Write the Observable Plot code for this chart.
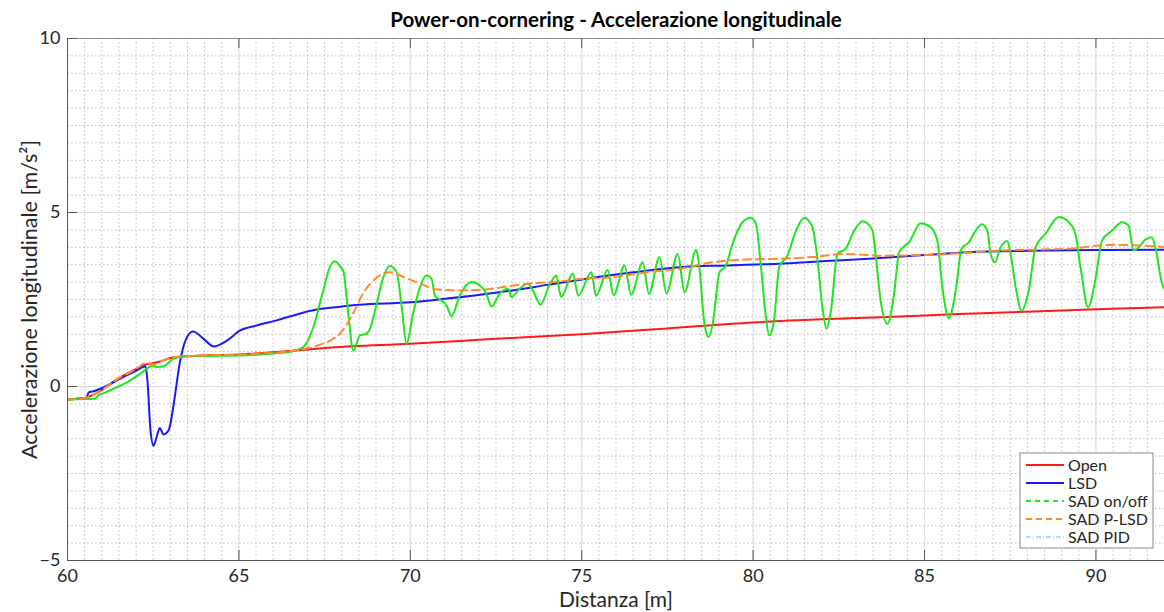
<!DOCTYPE html>
<html>
<head>
<meta charset="utf-8">
<script src="https://cdn.jsdelivr.net/npm/d3@7"></script>
<script src="https://cdn.jsdelivr.net/npm/@observablehq/plot@0.6"></script>
<style>
  html, body { margin: 0; padding: 0; background: #ffffff; }
  #chart { width: 1164px; height: 612px; overflow: hidden; }
</style>
</head>
<body>
<div id="chart"></div>
<script>
// Longitudinal acceleration [m/s²] against distance [m], one array of [distanza, accel] per strategy.
const open = [
  [60, -0.37], [60.5, -0.33], [61, -0.1], [61.5, 0.24], [62, 0.5], [62.3, 0.64], [62.45, 0.66],
  [62.7, 0.72], [63.1, 0.84], [63.7, 0.88], [65, 0.92], [66.6, 1.03], [67.7, 1.12], [70, 1.23],
  [72.5, 1.37], [75, 1.5], [77.5, 1.67], [80, 1.84], [82, 1.93], [83.5, 1.98], [86, 2.08],
  [88, 2.15], [90, 2.22], [92, 2.28]
];

const lsd = [
  [60, -0.37], [60.55, -0.32], [60.62, -0.17], [60.78, -0.13], [61, -0.05], [61.54, 0.23],
  [62, 0.45], [62.27, 0.58], [62.33, 0.2], [62.42, -1.26], [62.51, -1.7], [62.6, -1.45],
  [62.69, -1.19], [62.8, -1.38], [62.95, -1.26], [63.1, -0.49], [63.27, 0.65], [63.44, 1.32],
  [63.66, 1.58], [63.97, 1.37], [64.26, 1.15], [64.65, 1.32], [65.04, 1.61], [65.5, 1.75],
  [66.1, 1.9], [66.79, 2.1], [67.2, 2.2], [67.66, 2.26], [68.5, 2.35], [70, 2.42], [71, 2.52],
  [72.6, 2.71], [74, 2.92], [75.23, 3.11], [76.5, 3.28], [77.85, 3.43], [79.3, 3.48],
  [80.76, 3.53], [82, 3.6], [83.5, 3.68], [85, 3.78], [86.3, 3.86], [88, 3.9], [90, 3.92], [92, 3.93]
];

const sadOnOff = [
  [60, -0.37], [60.5, -0.36], [60.77, -0.35], [60.86, -0.3], [60.91, -0.24], [61.06, -0.19],
  [61.4, -0.04], [61.74, 0.12], [62.1, 0.35], [62.51, 0.6], [62.6, 0.56], [62.8, 0.58],
  [63.1, 0.8], [63.48, 0.88], [64, 0.88], [65.04, 0.89], [66, 0.95], [66.5, 1.0], [66.88, 1.13],
  [67.17, 1.7], [67.46, 2.76], [67.66, 3.45], [67.8, 3.6], [67.95, 3.45], [68.05, 3.3],
  [68.19, 2.09], [68.34, 1.03], [68.53, 1.47], [68.68, 1.5], [68.8, 1.6], [69.02, 2.38],
  [69.2, 3.1], [69.4, 3.46], [69.6, 3.28], [69.75, 2.28], [69.89, 1.23], [70.08, 2.09],
  [70.28, 2.85], [70.47, 3.19], [70.62, 3.09], [70.72, 2.61], [70.86, 2.5], [71.06, 2.33],
  [71.2, 2.02], [71.44, 2.61], [71.79, 3.0], [72.03, 2.9], [72.22, 2.66], [72.37, 2.3],
  [72.6, 2.66], [72.85, 2.81], [72.95, 2.57], [73.19, 2.81], [73.43, 2.95], [73.58, 2.75],
  [73.8, 2.35], [74.05, 2.9], [74.26, 3.19], [74.4, 2.57], [74.74, 3.25], [74.9, 2.61],
  [75.28, 3.28], [75.42, 2.61], [75.76, 3.35], [75.93, 2.62], [76.25, 3.48], [76.44, 2.64],
  [76.78, 3.57], [76.96, 2.66], [77.27, 3.72], [77.47, 2.68], [77.8, 3.81], [78.0, 2.71],
  [78.34, 3.93], [78.43, 3.43], [78.58, 1.8], [78.7, 1.42], [78.82, 1.8], [79.02, 3.28],
  [79.21, 3.48], [79.4, 4.1], [79.69, 4.72], [79.94, 4.85], [80.08, 4.68], [80.23, 3.43],
  [80.36, 2.09], [80.47, 1.47], [80.62, 1.99], [80.76, 3.43], [81.0, 3.76], [81.25, 4.48],
  [81.49, 4.85], [81.73, 4.58], [81.88, 3.62], [82.02, 2.28], [82.14, 1.66], [82.27, 2.18],
  [82.46, 3.81], [82.7, 3.96], [82.95, 4.48], [83.19, 4.75], [83.48, 4.5], [83.58, 3.72],
  [83.72, 2.47], [83.92, 1.8], [84.11, 2.66], [84.26, 3.86], [84.55, 4.15], [84.89, 4.69],
  [85.18, 4.58], [85.37, 4.2], [85.52, 2.85], [85.71, 1.97], [85.91, 2.76], [86.08, 3.96],
  [86.3, 4.15], [86.49, 4.48], [86.68, 4.66], [86.83, 4.48], [86.93, 3.81], [87.05, 3.57],
  [87.22, 4.0], [87.41, 4.18], [87.51, 3.81], [87.66, 2.85], [87.83, 2.18], [88.04, 2.76],
  [88.24, 4.0], [88.53, 4.39], [88.92, 4.87], [89.21, 4.72], [89.4, 4.39], [89.55, 3.43],
  [89.77, 2.28], [89.98, 3.05], [90.18, 4.2], [90.47, 4.48], [90.76, 4.72], [90.95, 4.63],
  [91.1, 3.91], [91.25, 4.0], [91.44, 4.22], [91.63, 4.29], [91.75, 3.91], [91.93, 2.95], [92, 2.8]
];

const sadPLsd = [
  [60, -0.37], [60.5, -0.33], [61, -0.1], [61.5, 0.24], [62, 0.5], [62.3, 0.68], [62.5, 0.63],
  [62.7, 0.72], [63.1, 0.84], [63.7, 0.88], [65, 0.92], [66.6, 1.03], [67.0, 1.1], [67.3, 1.18],
  [67.66, 1.32], [67.95, 1.52], [68.33, 2.1], [68.62, 2.67], [69.03, 3.14], [69.4, 3.28],
  [69.89, 3.11], [70.28, 2.96], [70.77, 2.79], [71.44, 2.76], [72.2, 2.79], [72.8, 2.87],
  [73.39, 2.95], [74.15, 3.0], [75.23, 3.11], [75.9, 3.14], [76.88, 3.28], [77.85, 3.38],
  [78.82, 3.57], [79.8, 3.65], [80.76, 3.67], [81.73, 3.72], [82.7, 3.81], [83.67, 3.76],
  [85.33, 3.79], [87.26, 3.91], [89.2, 3.96], [90.47, 4.07], [91.73, 4.03], [92, 4.0]
];

// Axis ticks and grid steps
const xMajor = [60, 65, 70, 75, 80, 85, 90];
const yMajor = [-5, 0, 5, 10];
const xMinor = d3.range(60, 92.01, 0.5);
const yMinor = d3.range(-5, 10.01, 0.5);

const titleText = "Power-on-cornering - Accelerazione longitudinale";
const xLabel = "Distanza [m]";
const yLabel = "Accelerazione longitudinale [m/s²]";

// Series appearance, in legend order
const series = [
  { name: "Open", data: open, color: "#ff1a1a", dash: null, width: 2 },
  { name: "LSD", data: lsd, color: "#1a1aff", dash: null, width: 2 },
  { name: "SAD on/off", data: sadOnOff, color: "#1ee61e", dash: "5,4", width: 2, plotDash: null },
  { name: "SAD P-LSD", data: sadPLsd, color: "#ff8a2a", dash: "6,4", width: 2, plotDash: "8,5" },
  { name: "SAD PID", data: null, color: "#4dbeee", dash: "5,2,1,2", width: 1 }
];

const W = 1164, H = 612;
const mTop = 38, mBottom = 52, mLeft = 67, mRight = 0;
const frameW = W - mLeft - mRight, frameH = H - mTop - mBottom;
const font = "Lato, 'Open Sans', sans-serif";
const tickLen = 10;

const lineMarks = series.filter(s => s.data).map(s =>
  Plot.line(s.data, {
    x: d => d[0], y: d => d[1],
    stroke: s.color, strokeWidth: s.width,
    strokeDasharray: s.plotDash !== undefined ? s.plotDash : s.dash,
    curve: "monotone-x", clip: true
  })
);

const chart = Plot.plot({
  width: W, height: H,
  marginTop: mTop, marginBottom: mBottom, marginLeft: mLeft, marginRight: mRight,
  style: { fontFamily: font, fontSize: "18px", color: "#262626", background: "#ffffff" },
  x: { domain: [60, 92], label: null },
  y: { domain: [-5, 10], label: null },
  marks: [
    // minor dotted grid, then major solid grid
    Plot.gridX(xMinor, { stroke: "#bcbcbc", strokeOpacity: 1, strokeDasharray: "1.5,2.5" }),
    Plot.gridY(yMinor, { stroke: "#bcbcbc", strokeOpacity: 1, strokeDasharray: "1.5,2.5" }),
    Plot.gridX(xMajor, { stroke: "#dedede", strokeOpacity: 1 }),
    Plot.gridY(yMajor, { stroke: "#dedede", strokeOpacity: 1 }),
    ...lineMarks,
    // axes: labels only, ticks drawn inward below
    Plot.axisX(xMajor, { tickSize: 0, tickPadding: 9, fontSize: 18, label: null }),
    Plot.axisY(yMajor, { tickSize: 0, tickPadding: 7, fontSize: 18, label: null }),
    Plot.ruleX([60], { stroke: "#555555" }),
    Plot.ruleY([-5], { stroke: "#555555" }),
    Plot.ruleY([10], { stroke: "#8c8c8c" }),
    Plot.tickX(xMajor, { x: d => d, insetTop: frameH - tickLen, stroke: "#555555" }),
    Plot.tickX(xMajor, { x: d => d, insetBottom: frameH - tickLen, stroke: "#555555" }),
    Plot.tickY(yMajor, { y: d => d, insetRight: frameW - tickLen, stroke: "#555555" }),
    // title and axis labels
    Plot.text([titleText], { frameAnchor: "top", dy: -18, lineAnchor: "middle", textAnchor: "middle",
      fontWeight: "bold", fontSize: 20.5, fill: "#000000" }),
    Plot.text([xLabel], { frameAnchor: "bottom", dy: 40, lineAnchor: "middle", textAnchor: "middle",
      fontSize: 21, fill: "#262626" }),
    Plot.text([yLabel], { frameAnchor: "left", dx: -37, rotate: -90, lineAnchor: "middle", textAnchor: "middle",
      fontSize: 21.5, fill: "#262626" })
  ]
});

document.getElementById("chart").appendChild(chart);

// Legend box in the lower-right corner of the plot frame
const svg = d3.select(chart);
const boxW = 133, boxH = 95, rowH = 18;
const boxX = W - mRight - 11 - boxW, boxY = H - mBottom - 12 - boxH;
const lg = svg.append("g").attr("transform", `translate(${boxX},${boxY})`);
lg.append("rect").attr("width", boxW).attr("height", boxH)
  .attr("fill", "#ffffff").attr("stroke", "#8a8a8a").attr("stroke-width", 1);
series.forEach((s, i) => {
  const y = 12 + i * rowH;
  lg.append("line").attr("x1", 6).attr("x2", 44).attr("y1", y).attr("y2", y)
    .attr("stroke", s.color).attr("stroke-width", s.width)
    .attr("stroke-dasharray", s.dash);
  lg.append("text").attr("x", 48).attr("y", y).attr("dy", "0.35em")
    .attr("text-anchor", "start")
    .attr("font-family", font).attr("font-size", 16).attr("fill", "#262626")
    .text(s.name);
});
</script>
</body>
</html>
